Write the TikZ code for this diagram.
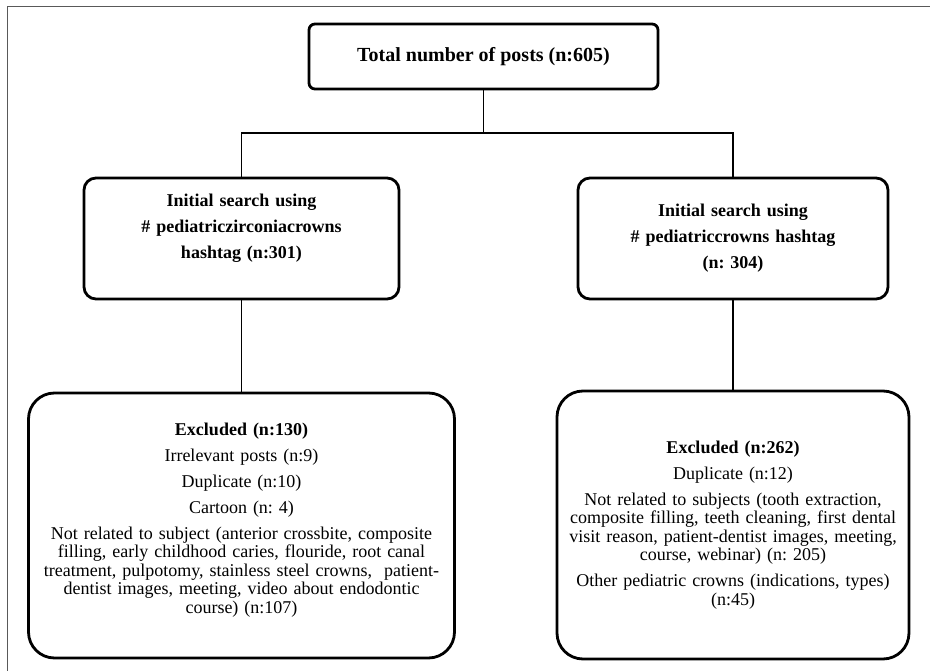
\documentclass[tikz,border=0pt]{standalone}
\usepackage{fontspec}
\setmainfont{Liberation Serif}
\usepackage{tikz}
\setlength\parindent{0pt}
\frenchspacing

\begin{document}
\begin{tikzpicture}[x=1pt, y=-1pt,
    box/.style={draw, line width=2.8pt, align=center, inner sep=0pt,
        font=\fontsize{18}{18.5}\selectfont},
    link/.style={line width=1.5pt}]
    \useasboundingbox (0,0) rectangle (930,671);

    % Frame
    \draw[black!65, line width=1.6pt] (7.5,671) -- (7.5,6.5) -- (930,6.5);

    % Top
    \node[box, rounded corners=6pt, minimum width=349pt, minimum height=65pt,
        font=\bfseries\fontsize{20}{24}\selectfont] (total) at (483.5,56.5)
        {Total number of posts (n:605)};

    % Hashtag searches
    \node[box, rounded corners=12pt, minimum width=315pt, minimum height=121pt,
        text width=300pt] (zirc) at (241.5,238.5)
        {\bfseries Initial search using\\[7.5pt]
        \# pediatriczirconiacrowns\\[7.5pt]
        hashtag (n:301)\par\vspace{20pt}\hrule height 0pt width 0pt};
    \node[box, rounded corners=12pt, minimum width=310pt, minimum height=121pt,
        text width=296pt] (crowns) at (733,238.5)
        {\bfseries Initial search using\\[7.5pt]
        \# pediatriccrowns hashtag\\[7.5pt]
        (n: 304)};

    % Excluded
    \node[box, rounded corners=26pt, minimum width=426pt, minimum height=265pt,
        text width=416pt] (exclz) at (241.5,525.5)
        {\textbf{Excluded (n:130)}\\[7.5pt]
        Irrelevant posts (n:9)\\[7.5pt]
        Duplicate (n:10)\\[7.5pt]
        Cartoon (n: 4)\\[7.5pt]
        Not related to subject (anterior crossbite, composite\\
        filling, early childhood caries, flouride, root canal\\
        treatment, pulpotomy, stainless steel crowns, \ patient-\\
        dentist images, meeting, video about endodontic\\
        course) (n:107)\par\vspace{11pt}\hrule height 0pt width 0pt};
    \node[box, rounded corners=26pt, minimum width=352pt, minimum height=268pt,
        text width=344pt] (exclc) at (733,525)
        {\textbf{Excluded (n:262)}\\[7.5pt]
        Duplicate (n:12)\\[7.5pt]
        Not related to subjects (tooth extraction,\\
        composite filling, teeth cleaning, first dental\\
        visit reason, patient-dentist images, meeting,\\
        course, webinar) (n: 205)\\[7.5pt]
        Other pediatric crowns (indications, types)\\
        (n:45)};

    % Connectors
    \coordinate (split) at (483.5,133);
    \draw[link] (total) -- (split);
    \draw[link] (split) -| (zirc);
    \draw[link] (split) -| (crowns);
    \draw[link] (zirc) -- (exclz);
    \draw[link] (crowns) -- (exclc);
\end{tikzpicture}
\end{document}
